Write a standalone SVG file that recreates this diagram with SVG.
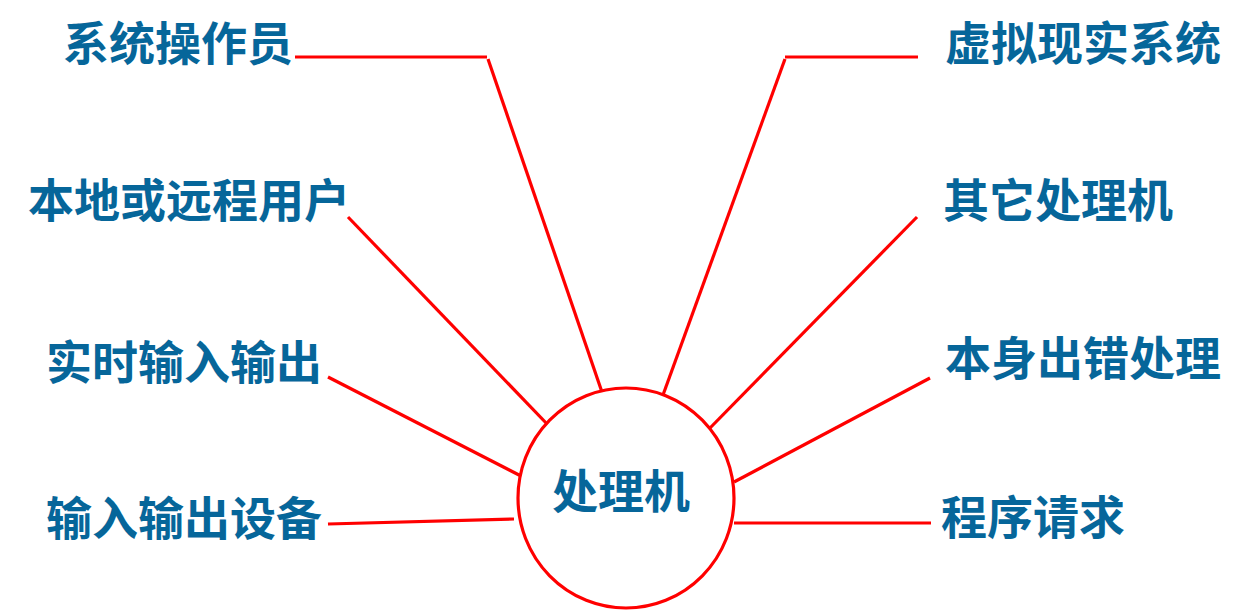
<svg xmlns="http://www.w3.org/2000/svg" width="1249" height="611" viewBox="0 0 1249 611">
<style>
.lbl{font-family:"Noto Sans CJK SC","Noto Sans CJK TC",sans-serif;font-weight:bold;font-size:46px;fill:#06669A}
.ln{stroke:#FF0000;stroke-width:3.2;fill:none}
</style>
<rect width="1249" height="611" fill="#FFFFFF"/>
<g id="connectors">
<polyline class="ln" points="295,57 487,57"/>
<line class="ln" x1="488" y1="59" x2="604" y2="398"/>
<polyline class="ln" points="785,57 918,57"/>
<line class="ln" x1="785" y1="59" x2="663" y2="395"/>
<line class="ln" x1="348" y1="217" x2="549" y2="426"/>
<line class="ln" x1="917" y1="217" x2="710" y2="428"/>
<line class="ln" x1="328" y1="377" x2="521" y2="476"/>
<line class="ln" x1="930" y1="378" x2="734" y2="482"/>
<line class="ln" x1="328" y1="524" x2="514" y2="519"/>
<line class="ln" x1="734" y1="523" x2="931" y2="523"/>
</g>
<g id="center">
<ellipse cx="626" cy="498" rx="108" ry="110" fill="#FFFFFF" stroke="#FF0000" stroke-width="3.2"/>
<text class="lbl" x="621" y="508" text-anchor="middle">处理机</text>
</g>
<g id="n1"><text class="lbl" x="63" y="60">系统操作员</text></g>
<g id="n2"><text class="lbl" x="945" y="60">虚拟现实系统</text></g>
<g id="n3"><text class="lbl" x="28" y="217">本地或远程用户</text></g>
<g id="n4"><text class="lbl" x="943" y="217">其它处理机</text></g>
<g id="n5"><text class="lbl" x="46" y="379">实时输入输出</text></g>
<g id="n6"><text class="lbl" x="945" y="375">本身出错处理</text></g>
<g id="n7"><text class="lbl" x="46" y="535">输入输出设备</text></g>
<g id="n8"><text class="lbl" x="941" y="534">程序请求</text></g>
</svg>
